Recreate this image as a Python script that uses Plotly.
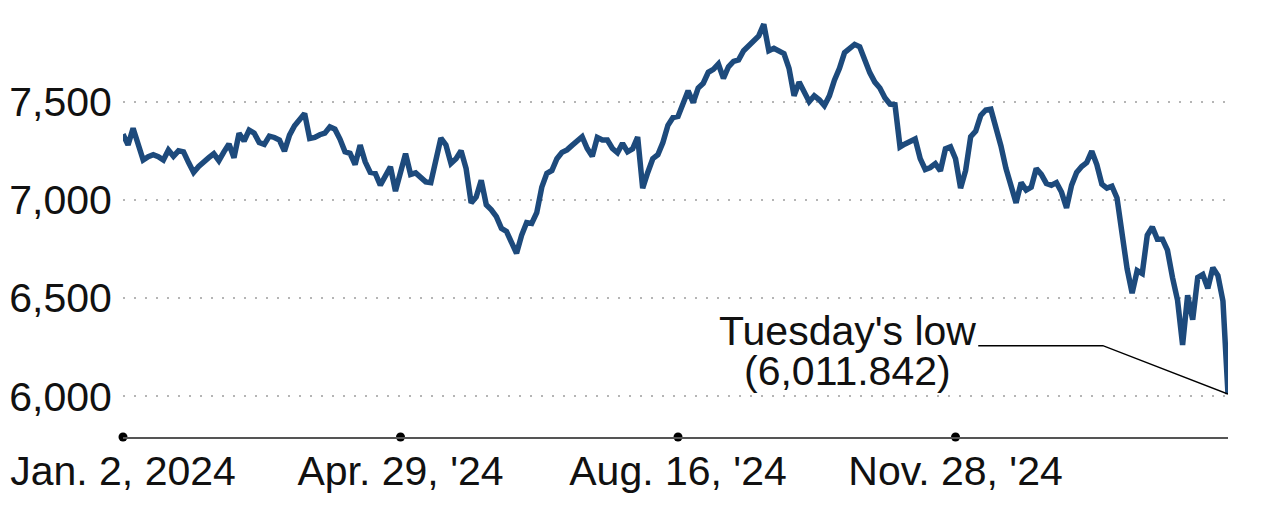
#!/usr/bin/env python3
# Index close, Jan. 2, 2024 to Tuesday's low
import plotly.graph_objects as go

# Values, one every ~5 px (index = position along the axis)
closes = [
    7335, 7280, 7365, 7290, 7203, 7220, 7230, 7220, 7203, 7254,
    7222, 7250, 7245, 7190, 7140, 7170, 7195, 7215, 7235, 7200,
    7245, 7285, 7215, 7339, 7300, 7355, 7340, 7292, 7283, 7325,
    7318, 7305, 7248, 7330, 7378, 7415, 7440, 7313, 7318, 7332,
    7340, 7372, 7360, 7310, 7245, 7237, 7180, 7279, 7194, 7140,
    7135, 7075, 7120, 7168, 7045, 7155, 7235, 7130, 7138, 7115,
    7092, 7088, 7200, 7315, 7280, 7186, 7210, 7250, 7160, 6985,
    7015, 7100, 6975, 6950, 6915, 6855, 6840, 6780, 6728, 6820,
    6885, 6880, 6935, 7065, 7135, 7150, 7210, 7242, 7255, 7278,
    7298, 7322, 7262, 7222, 7318, 7305, 7305, 7262, 7240, 7288,
    7245, 7260, 7320, 7060, 7140, 7210, 7230, 7292, 7380, 7420,
    7425, 7497, 7556, 7495, 7570, 7594, 7650, 7665, 7692, 7619,
    7678, 7705, 7713, 7760, 7785, 7813, 7835, 7895, 7760, 7772,
    7760, 7745, 7670, 7530, 7600, 7550, 7500, 7530, 7510, 7480,
    7530, 7610, 7670, 7750, 7770, 7792, 7780, 7705, 7648, 7600,
    7570, 7520, 7488, 7485, 7270, 7285, 7295, 7310, 7210, 7155,
    7165, 7185, 7148, 7260, 7270, 7210, 7060, 7150, 7322, 7350,
    7430, 7458, 7462, 7370, 7275, 7160, 7060, 6985, 7088, 7050,
    7065, 7160, 7130, 7084, 7075, 7088, 7040, 6960, 7075, 7140,
    7170, 7190, 7248, 7180, 7080, 7060, 7070, 7010, 6830, 6650,
    6525, 6640, 6625, 6820, 6862, 6800, 6800, 6744, 6605, 6490,
    6262, 6515, 6390, 6605, 6620, 6550, 6655, 6615, 6485, 6011.842,
]

tick_pos = [0, 55, 110, 165]
tick_text = ["Jan. 2, 2024", "Apr. 29, '24", "Aug. 16, '24", "Nov. 28, '24"]
y_ticks = [6000, 6500, 7000, 7500]

# styling
LINE_COLOR = "#1d4a7c"
FONT = "Liberation Sans, Arial, sans-serif"
FONT_SIZE = 41
Y_RANGE = [5793, 7967]


def main():
    x = list(range(len(closes)))
    low = closes[-1]
    last = x[-1]

    fig = go.Figure()

    fig.add_trace(go.Scatter(
        x=x, y=closes, mode="lines",
        line=dict(color=LINE_COLOR, width=5.5, shape="linear"),
        hoverinfo="skip", showlegend=False,
    ))

    # leader line from the label to the low
    fig.add_trace(go.Scatter(
        x=[169.5, 194.2, last], y=[6258, 6258, low], mode="lines",
        line=dict(color="black", width=1.5),
        hoverinfo="skip", showlegend=False,
    ))

    # dots on the date axis
    fig.add_trace(go.Scatter(
        x=tick_pos, y=[Y_RANGE[0]] * len(tick_pos), mode="markers",
        marker=dict(color="black", size=9),
        cliponaxis=False, hoverinfo="skip", showlegend=False,
    ))

    label_font = dict(family=FONT, size=FONT_SIZE, color="#111111")
    fig.add_annotation(x=143.5, y=6334, text="Tuesday's low", showarrow=False,
                       xanchor="center", yanchor="middle", font=label_font)
    fig.add_annotation(x=143.5, y=6130, text="({:,.3f})".format(low), showarrow=False,
                       xanchor="center", yanchor="middle", font=label_font)

    fig.update_layout(
        width=1280, height=508,
        margin=dict(l=123, r=52, t=10, b=71, autoexpand=False),
        paper_bgcolor="white", plot_bgcolor="white",
        font=dict(family=FONT, size=FONT_SIZE, color="#111111"),
        xaxis=dict(
            range=[0, last], tickvals=tick_pos, ticktext=tick_text,
            showgrid=False, zeroline=False, automargin=False,
            showline=True, linecolor="#555555", linewidth=2,
            ticks="", ticklabelstandoff=-3,
        ),
        yaxis=dict(
            range=Y_RANGE, tickvals=y_ticks, tickformat=",d",
            showgrid=True, gridcolor="#b5b5b5", gridwidth=2, griddash="2px,9px",
            zeroline=False, showline=False, automargin=False,
            ticks="outside", ticklen=2, tickcolor="rgba(0,0,0,0)",
        ),
    )

    # the page's default body margin would push the figure 8 px off
    fig.write_html("out.html", config={"displayModeBar": False},
                   post_script="document.body.style.margin = '0px';")


if __name__ == "__main__":
    main()
